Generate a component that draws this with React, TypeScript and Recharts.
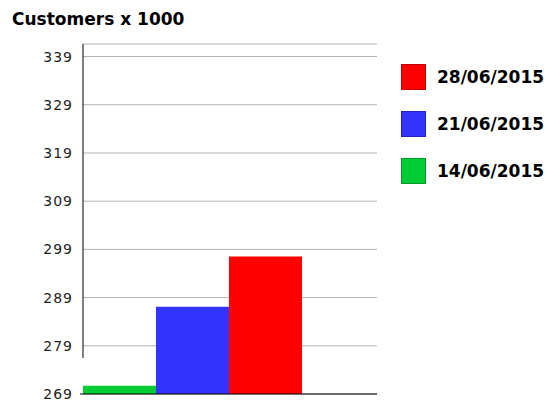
import { BarChart, Bar, XAxis, YAxis, CartesianGrid, Legend } from "recharts";

const weeks = ["14/06/2015", "21/06/2015", "28/06/2015"];
const customers = [270.7, 287.1, 297.5];
const colors = ["#00cc33", "#3333ff", "#ff0000"];
const yTicks = [269, 279, 289, 299, 309, 319, 329, 339];

const data = [
  weeks.reduce<Record<string, string | number>>(
    (row, w, i) => ({ ...row, [w]: customers[i] }),
    { name: "week" }
  ),
];

function YTick({ x, y, payload }: any) {
  return (
    <g>
      {payload.value === yTicks[0] && (
        <line x1={x + 7} y1={y} x2={x + 10} y2={y} stroke="#000" />
      )}
      <text
        x={x}
        y={y}
        dy={5}
        textAnchor="end"
        fill="#222"
        fontSize={14}
        fontFamily="DejaVu Sans"
        letterSpacing={1}
      >
        {payload.value}
      </text>
    </g>
  );
}

function LegendBox() {
  const order = [2, 1, 0];
  return (
    <div>
      {order.map((i) => (
        <div
          key={weeks[i]}
          style={{ display: "flex", alignItems: "center", height: 47 }}
        >
          <span
            style={{
              width: 23,
              height: 24,
              background: colors[i],
              border: "1px solid rgba(0,0,0,0.25)",
              display: "inline-block",
            }}
          />
          <span
            style={{
              marginLeft: 11,
              fontFamily: "DejaVu Sans",
              fontWeight: "bold",
              fontSize: 17,
              color: "#000",
            }}
          >
            {weeks[i]}
          </span>
        </div>
      ))}
    </div>
  );
}

export default function App() {
  return (
    <div style={{ position: "absolute", left: 0, top: 0, width: 555, height: 401, background: "#fff" }}>
      <div
        style={{
          position: "absolute",
          left: 12,
          top: 9,
          fontFamily: "DejaVu Sans",
          fontWeight: "bold",
          fontSize: 17,
          color: "#000",
          whiteSpace: "nowrap",
        }}
      >
        Customers x 1000
      </div>
      <BarChart
        width={555}
        height={401}
        data={data}
        margin={{ top: 44, right: 178, bottom: 0, left: 0 }}
        barCategoryGap={0}
        barGap={0}
      >
        <CartesianGrid vertical={false} stroke="#b4b4b4" />
        <XAxis
          dataKey="name"
          height={7}
          tick={false}
          tickLine={false}
          padding={{ left: 0, right: 75 }}
          axisLine={{ stroke: "#000" }}
        />
        <YAxis
          width={83}
          domain={[269, 341.6]}
          ticks={yTicks}
          interval={0}
          tickLine={false}
          tickSize={10}
          tickMargin={0}
          tick={<YTick />}
          axisLine={{ stroke: "#000", strokeDasharray: "314 36" }}
        />
        <Legend
          layout="vertical"
          align="center"
          verticalAlign="middle"
          content={<LegendBox />}
          wrapperStyle={{ left: 401, top: 53, width: 154 }}
        />
        {weeks.map((w, i) => (
          <Bar key={w} dataKey={w} fill={colors[i]} isAnimationActive={false} />
        ))}
      </BarChart>
    </div>
  );
}
